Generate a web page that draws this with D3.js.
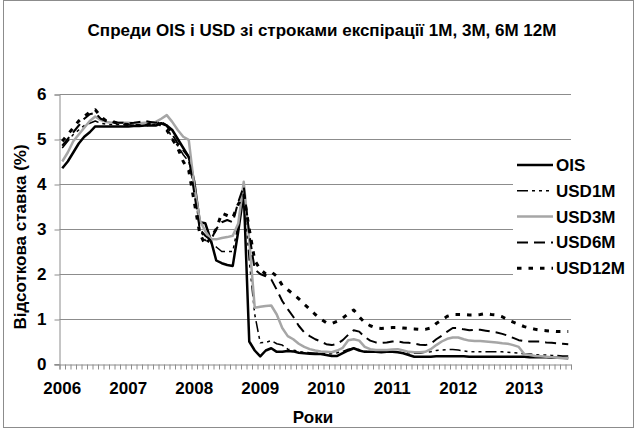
<!DOCTYPE html>
<html>
<head>
<meta charset="utf-8">
<script src="https://cdnjs.cloudflare.com/ajax/libs/d3/7.8.5/d3.min.js"></script>
<style>
  body { margin: 0; background: #fff; }
  text { font-family: "Liberation Sans", Arial, sans-serif; font-weight: bold; fill: #000; }
</style>
</head>
<body>
<svg width="637" height="430"></svg>
<script>
// monthly points, Jan 2006 .. Sep 2013
var years = ['2006', '2007', '2008', '2009', '2010', '2011', '2012', '2013'];
var yTicks = [0, 1, 2, 3, 4, 5, 6];

var ois = [
  4.35, 4.5, 4.7, 4.9, 5.05, 5.15, 5.28, 5.28, 5.28, 5.28,
  5.28, 5.28, 5.28, 5.29, 5.29, 5.3, 5.3, 5.3, 5.35, 5.3,
  5.2, 5.0, 4.8, 4.6, 4.05, 3.15, 3.13, 2.76, 2.3, 2.24,
  2.2, 2.18, 2.95, 3.8, 0.5, 0.3, 0.17, 0.3, 0.35, 0.27,
  0.27, 0.29, 0.28, 0.25, 0.24, 0.23, 0.22, 0.22, 0.2, 0.18,
  0.18, 0.24, 0.3, 0.35, 0.3, 0.27, 0.27, 0.27, 0.26, 0.27,
  0.27, 0.26, 0.24, 0.2, 0.16, 0.16, 0.16, 0.16, 0.17, 0.17,
  0.17, 0.17, 0.17, 0.17, 0.16, 0.16, 0.16, 0.16, 0.16, 0.16,
  0.16, 0.16, 0.16, 0.16, 0.16, 0.15, 0.15, 0.15, 0.15, 0.14,
  0.14, 0.14, 0.13
];
var usd1m = [
  4.8, 4.95, 5.1, 5.2, 5.3, 5.35, 5.4, 5.35, 5.33, 5.32,
  5.32, 5.32, 5.32, 5.32, 5.32, 5.32, 5.32, 5.33, 5.35, 5.3,
  5.0, 4.85, 4.65, 4.5, 3.9, 3.0, 2.75, 2.7, 2.6, 2.5,
  2.5, 2.5, 3.1, 3.9, 2.3, 1.1, 0.47, 0.48, 0.52, 0.45,
  0.42, 0.33, 0.31, 0.28, 0.26, 0.25, 0.24, 0.24, 0.23, 0.23,
  0.25, 0.28, 0.33, 0.35, 0.32, 0.28, 0.27, 0.27, 0.26, 0.26,
  0.26, 0.26, 0.25, 0.25, 0.24, 0.24, 0.26, 0.27, 0.3, 0.31,
  0.32, 0.32, 0.31, 0.29, 0.27, 0.27, 0.27, 0.27, 0.27, 0.27,
  0.27, 0.26, 0.25, 0.24, 0.23, 0.22, 0.21, 0.2, 0.2, 0.19,
  0.19, 0.18, 0.18
];
var usd3m = [
  4.5, 4.7, 4.95, 5.1, 5.25, 5.4, 5.5, 5.42, 5.38, 5.36,
  5.36, 5.36, 5.36, 5.35, 5.35, 5.36, 5.36, 5.38, 5.45, 5.53,
  5.38, 5.2, 5.05, 4.98, 3.95, 3.2, 2.95, 2.78, 2.77, 2.8,
  2.82, 2.85, 3.12, 4.05, 2.75, 1.25, 1.27, 1.29, 1.3, 1.1,
  0.8, 0.62, 0.55, 0.45, 0.38, 0.33, 0.3, 0.28, 0.27, 0.26,
  0.3, 0.36, 0.53, 0.55, 0.52, 0.38, 0.33, 0.31, 0.31, 0.31,
  0.32, 0.33, 0.3, 0.27, 0.26, 0.26, 0.27, 0.33, 0.42, 0.5,
  0.56, 0.59, 0.59, 0.55, 0.52, 0.51, 0.51, 0.5, 0.49, 0.48,
  0.46, 0.45, 0.42, 0.38, 0.22, 0.2, 0.18, 0.17, 0.16, 0.15,
  0.14, 0.13, 0.13
];
var usd6m = [
  4.85, 5.0, 5.15, 5.3, 5.45, 5.55, 5.58, 5.45, 5.4, 5.38,
  5.36, 5.36, 5.35, 5.36, 5.38, 5.4, 5.38, 5.36, 5.38, 5.3,
  5.1, 4.9, 4.75, 4.6, 3.8, 3.0, 2.85, 2.75, 3.0, 3.15,
  3.2, 3.15, 3.6, 3.95, 2.9, 2.1, 2.0, 1.95, 1.88, 1.65,
  1.4, 1.22, 1.05, 0.85, 0.7, 0.62, 0.55, 0.5, 0.44, 0.42,
  0.45, 0.53, 0.65, 0.75, 0.72, 0.6, 0.52, 0.48, 0.47, 0.48,
  0.5, 0.5, 0.48, 0.47, 0.45, 0.43, 0.42, 0.45, 0.55, 0.63,
  0.72, 0.8, 0.8, 0.77, 0.75, 0.76, 0.76, 0.74, 0.72, 0.7,
  0.67, 0.63, 0.58, 0.53, 0.51, 0.5, 0.5, 0.5, 0.48, 0.47,
  0.46, 0.45, 0.44
];
var usd12m = [
  4.95, 5.1, 5.25, 5.4, 5.5, 5.6, 5.65, 5.5, 5.4, 5.4,
  5.35, 5.33, 5.32, 5.3, 5.3, 5.28, 5.35, 5.38, 5.3, 5.2,
  5.0, 4.8, 4.5, 4.3, 3.6, 2.9, 2.65, 2.8, 3.0, 3.35,
  3.3, 3.25, 3.55, 3.75, 3.0, 2.3, 2.1, 2.0, 2.05, 1.95,
  1.75, 1.65, 1.55, 1.45, 1.33, 1.22, 1.1, 1.0, 0.92, 0.9,
  0.95, 1.02, 1.12, 1.2, 1.05, 0.92, 0.85, 0.8, 0.79, 0.8,
  0.81, 0.81, 0.8, 0.79, 0.78, 0.77, 0.77, 0.8, 0.9, 0.98,
  1.06, 1.1, 1.1, 1.1, 1.09, 1.09, 1.1, 1.12, 1.1, 1.09,
  1.05, 0.98, 0.93, 0.88, 0.83, 0.8, 0.77, 0.75, 0.74, 0.73,
  0.72, 0.72, 0.72
];

var seriesNames = ['OIS', 'USD1M', 'USD3M', 'USD6M', 'USD12M'];
var seriesValues = [ois, usd1m, usd3m, usd6m, usd12m];
var seriesStyle = [
  {color: '#000', width: 2.5, dash: null},
  {color: '#000', width: 1.5, dash: '11,4,3,4,3,4,3,4'},
  {color: '#a6a6a6', width: 2.5, dash: null},
  {color: '#000', width: 2, dash: '11,6'},
  {color: '#000', width: 3, dash: '4.5,7'}
];

var plot = {left: 59.5, right: 571, top: 94, bottom: 364};
var n = ois.length;

var svg = d3.select('svg');

// outer frame
svg.append('rect')
  .attr('x', 3.5).attr('y', 0.5)
  .attr('width', 630).attr('height', 427)
  .attr('fill', '#fff')
  .attr('stroke', '#8c8c8c');

var x = d3.scaleLinear()
    .domain([-0.5, n - 0.5])
    .range([plot.left, plot.right]),
  y = d3.scaleLinear()
    .domain([0, 6])
    .range([plot.bottom, plot.top]);

// gridlines
svg.append('g')
  .selectAll('line')
  .data(yTicks.filter(function(d) { return d > 0; }))
  .enter().append('line')
  .attr('x1', plot.left).attr('x2', plot.right)
  .attr('y1', function(d) { return Math.round(y(d)) + 0.5; })
  .attr('y2', function(d) { return Math.round(y(d)) + 0.5; })
  .attr('stroke', '#8c8c8c')
  .attr('stroke-width', 1);

// y axis
var leftAxis = d3.axisLeft(y).tickValues(yTicks).tickSize(5).tickPadding(8)
  .tickFormat(d3.format('d'));
var gy = svg.append('g')
  .attr('transform', 'translate(' + plot.left + ',0.5)')
  .call(leftAxis);
gy.select('.domain').attr('stroke', '#8c8c8c');
gy.selectAll('.tick line').attr('stroke', '#8c8c8c');
gy.selectAll('.tick text')
  .style('font-size', '17px')
  .style('font-family', '"Liberation Sans", Arial, sans-serif')
  .style('font-weight', 'bold')
  .attr('fill', '#000');

// x axis: one tick per month boundary
var bounds = d3.range(n + 1).map(function(i) { return i - 0.5; });
var bottomAxis = d3.axisBottom(x).tickValues(bounds).tickSize(5).tickFormat('');
var gx = svg.append('g')
  .attr('transform', 'translate(0,' + (Math.round(y(0)) + 0.5) + ')')
  .call(bottomAxis);
gx.select('.domain').attr('stroke', '#8c8c8c');
gx.selectAll('.tick line').attr('stroke', '#8c8c8c');
gx.append('line')
  .attr('x1', plot.left - 5).attr('x2', plot.left)
  .attr('stroke', '#8c8c8c');

// year labels under the January of each year
svg.append('g')
  .selectAll('text')
  .data(years)
  .enter().append('text')
  .attr('x', function(d, i) { return x(i * 12); })
  .attr('y', 394)
  .attr('text-anchor', 'middle')
  .style('font-size', '17px')
  .text(function(d) { return d; });

// series
var line = d3.line()
  .x(function(d, i) { return x(i); })
  .y(function(d) { return y(d); });

seriesValues.forEach(function(vals, k) {
  var st = seriesStyle[k];
  svg.append('path')
    .datum(vals)
    .attr('d', line)
    .attr('fill', 'none')
    .attr('stroke', st.color)
    .attr('stroke-width', st.width)
    .attr('stroke-linejoin', 'round')
    .attr('stroke-dasharray', st.dash);
});

// legend
var legend = svg.append('g');
legend.append('rect')
  .attr('x', 513).attr('y', 148)
  .attr('width', 115).attr('height', 134)
  .attr('fill', '#fff');
seriesNames.forEach(function(name, k) {
  var st = seriesStyle[k], ly = 165 + k * 25.8;
  legend.append('line')
    .attr('x1', 517).attr('x2', 553)
    .attr('y1', ly).attr('y2', ly)
    .attr('stroke', st.color)
    .attr('stroke-width', st.width)
    .attr('stroke-dasharray', st.dash);
  legend.append('text')
    .attr('x', 556).attr('y', ly + 6)
    .style('font-size', '17px')
    .text(name);
});

// titles
svg.append('text')
  .attr('x', 322).attr('y', 36)
  .attr('text-anchor', 'middle')
  .style('font-size', '17px')
  .text('Спреди OIS і USD зі строками експірації 1M, 3M, 6M 12M');

svg.append('text')
  .attr('text-anchor', 'middle')
  .attr('transform', 'translate(26,237)rotate(-90)')
  .style('font-size', '17px')
  .text('Відсоткова ставка (%)');

svg.append('text')
  .attr('x', 313).attr('y', 423)
  .attr('text-anchor', 'middle')
  .style('font-size', '17px')
  .text('Роки');
</script>
</body>
</html>
